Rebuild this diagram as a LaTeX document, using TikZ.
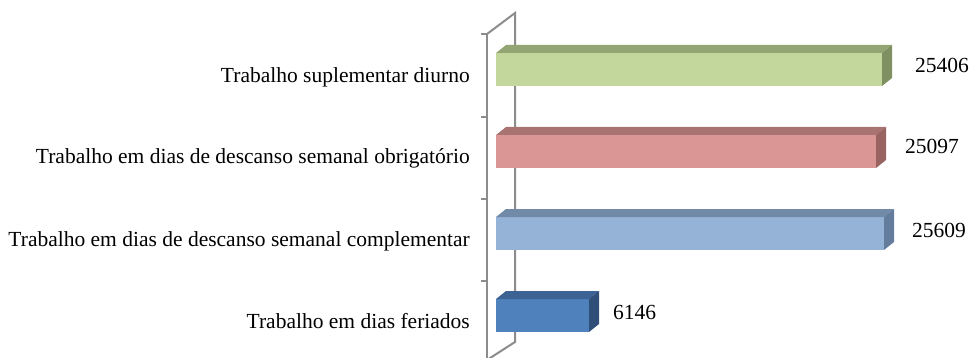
\documentclass[tikz,border=0pt]{standalone}
\usepackage{fontspec}
\setmainfont{Liberation Serif}
\definecolor{axisgray}{HTML}{8C8C8C}
\definecolor{gF}{HTML}{C3D69B}\definecolor{gT}{HTML}{93A572}\definecolor{gS}{HTML}{7F9162}
\definecolor{rF}{HTML}{D99694}\definecolor{rT}{HTML}{A87370}\definecolor{rS}{HTML}{986361}
\definecolor{lF}{HTML}{95B3D7}\definecolor{lT}{HTML}{718AA8}\definecolor{lS}{HTML}{657D9C}
\definecolor{dF}{HTML}{4F81BD}\definecolor{dT}{HTML}{3C6394}\definecolor{dS}{HTML}{2F4F78}
\newcommand\drawthreedbar[6]{%
  \fill[#4] (496,#2) rectangle (#1,#3);
  \fill[#5] (496,#2) -- (506,#2-8) -- (#1+10,#2-8) -- (#1,#2) -- cycle;
  \fill[#6] (#1,#2) -- (#1+10,#2-8) -- (#1+10,#3-8) -- (#1,#3) -- cycle;
}
\begin{document}
\begin{tikzpicture}[x=1pt,y=-1pt,
  lbl/.style={font=\fontsize{21.5}{25}\selectfont, inner sep=0pt, text=black},
  axisline/.style={draw=axisgray, line width=2pt}]
\useasboundingbox (0,0) rectangle (971,358);
% axis walls
\coordinate (ft) at (487,34);
\coordinate (fb) at (487,360);
\coordinate (bt) at (515,13);
\coordinate (bb) at (515,342);
\draw[axisline] (ft) -- (fb);
\draw[axisline] (ft) -- (bt) -- (bb) -- (fb);
\foreach \t in {34,117,199,281}{\draw[axisline] (481,\t) -- (487,\t);}
% bars
\drawthreedbar{882}{53}{86}{gF}{gT}{gS}
\drawthreedbar{876}{135}{168}{rF}{rT}{rS}
\drawthreedbar{884}{217}{250}{lF}{lT}{lS}
\drawthreedbar{589}{299}{332}{dF}{dT}{dS}
% category labels
\node[lbl, anchor=base east] (c1) at (470,83) {Trabalho suplementar diurno};
\node[lbl, anchor=base east] (c2) at (470,164) {Trabalho em dias de descanso semanal obrigatório};
\node[lbl, anchor=base east] (c3) at (470,246) {Trabalho em dias de descanso semanal complementar};
\node[lbl, anchor=base east] (c4) at (470,328) {Trabalho em dias feriados};
% value labels
\node[lbl, anchor=base west] (v1) at (915,73) {25406};
\node[lbl, anchor=base west] (v2) at (905,154) {25097};
\node[lbl, anchor=base west] (v3) at (912,237) {25609};
\node[lbl, anchor=base west] (v4) at (613,319) {6146};
\end{tikzpicture}
\end{document}
